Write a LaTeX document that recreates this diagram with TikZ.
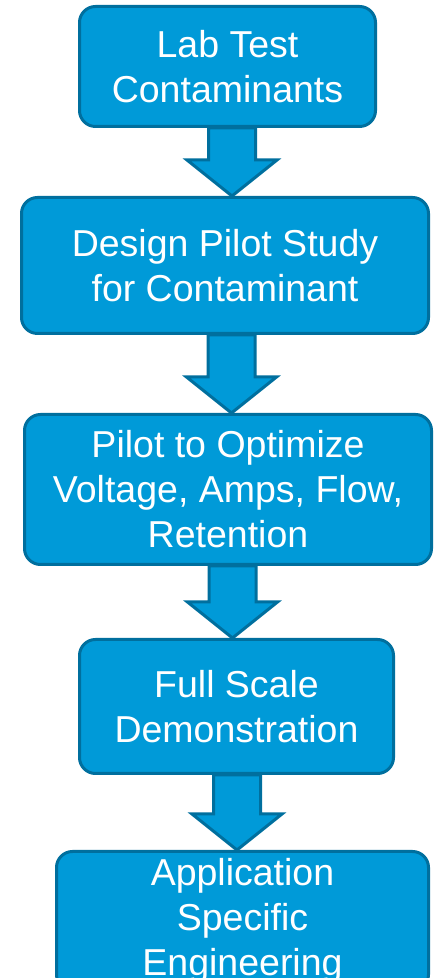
\documentclass[tikz,border=0pt]{standalone}
\usepackage{fontspec}
\setmainfont{Liberation Sans}
\usetikzlibrary{calc}
\definecolor{boxfill}{RGB}{0,154,216}
\definecolor{boxline}{RGB}{0,111,158}
\tikzset{
  flowbox/.style={draw=boxline, fill=boxfill, line width=3pt, rounded corners=16pt,
    text=white, align=center, inner sep=0pt,
    font=\fontsize{37.5}{45}\selectfont},
  blockarrow/.style={draw=boxline, fill=boxfill, line width=3pt, line join=miter}
}
\newcommand\flowarrow[3]{%
  \path let \p1=(#1.south), \p2=(#2.north) in
    coordinate (s1) at (#3-23.5,\y1) coordinate (s2) at (#3+23.5,\y1)
    coordinate (h1) at (#3-45,\y2+36) coordinate (h2) at (#3+45,\y2+36)
    coordinate (t) at (#3,\y2);
  \draw[blockarrow] (s1) -- (s2) -- (s2 |- h2) -- (h2) -- (t) -- (h1) -- (s1 |- h1) -- cycle;
}
\begin{document}
\begin{tikzpicture}[x=1pt,y=1pt]
\useasboundingbox (0,0) rectangle (434,978);
\clip (0,0) rectangle (434,978);
\node[flowbox, minimum width=296, minimum height=120] (b1) at (227.5,911.5) {Lab Test\\Contaminants};
\node[flowbox, minimum width=407, minimum height=136] (b2) at (225,712.5) {Design Pilot Study\\for Contaminant};
\node[flowbox, minimum width=407, minimum height=150] (b3) at (228,488.5) {Pilot to Optimize\\Voltage, Amps, Flow,\\Retention};
\node[flowbox, minimum width=314, minimum height=134] (b4) at (236.5,271.5) {Full Scale\\Demonstration};
\node[flowbox, minimum width=372, minimum height=139] (b5) at (242.5,57) {Application\\Specific\\Engineering};
\flowarrow{b1}{b2}{232}
\flowarrow{b2}{b3}{231.5}
\flowarrow{b3}{b4}{232.5}
\flowarrow{b4}{b5}{237}
\end{tikzpicture}
\end{document}
